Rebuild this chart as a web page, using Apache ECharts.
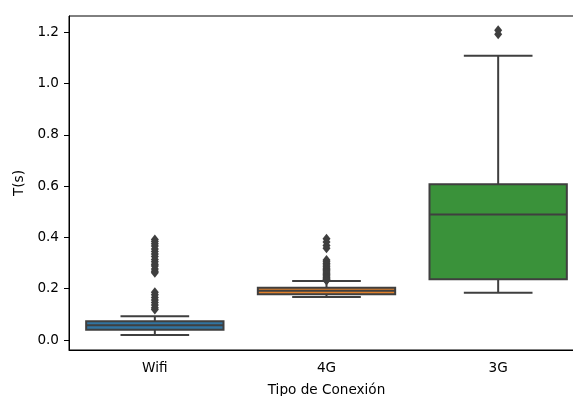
<!DOCTYPE html>
<html>
<head>
<meta charset="utf-8">
<script src="https://cdn.jsdelivr.net/npm/echarts@6/dist/echarts.min.js"></script>
<style>
html,body{margin:0;padding:0;background:#fff;}
#chart{width:573px;height:396px;}
</style>
</head>
<body>
<div id="chart"></div>
<script>
const categories = ['Wifi', '4G', '3G'];
const lowWhisker = [0.019, 0.168, 0.184];
const q1 = [0.040, 0.178, 0.237];
const median = [0.057, 0.192, 0.489];
const q3 = [0.073, 0.204, 0.607];
const highWhisker = [0.093, 0.230, 1.108];
const wifiOutliers = [0.392, 0.384, 0.375, 0.366, 0.355, 0.345, 0.335, 0.325, 0.314, 0.305, 0.295, 0.288, 0.277, 0.268, 0.262, 0.186, 0.176, 0.166, 0.156, 0.146, 0.136, 0.126, 0.119];
const g4Outliers = [0.395, 0.382, 0.368, 0.358, 0.312, 0.305, 0.298, 0.292, 0.286, 0.280, 0.275, 0.270, 0.265, 0.260, 0.255, 0.250, 0.246, 0.242, 0.238, 0.235, 0.232];
const g3Outliers = [1.192, 1.207];
const yTicks = [0, 0.2, 0.4, 0.6, 0.8, 1.0, 1.2];
const boxColors = ['#3274a1', '#e1812c', '#3a923a'];
const lineColor = '#3f3f3f';

const boxData = categories.map((c, i) => [i, lowWhisker[i], q1[i], median[i], q3[i], highWhisker[i]]);
const outlierData = [];
[wifiOutliers, g4Outliers, g3Outliers].forEach((arr, i) => arr.forEach(v => outlierData.push([i, v])));

const chart = echarts.init(document.getElementById('chart'), null, {renderer: 'canvas'});
const font = 'DejaVu Sans';
chart.setOption({
  animation: false,
  backgroundColor: '#fff',
  grid: {left: 69, top: 16, width: 515, height: 334, outerBoundsMode: 'none', containLabel: false, show: true, borderColor: '#000', borderWidth: 1, backgroundColor: 'transparent'},
  xAxis: {
    type: 'category', data: categories, boundaryGap: true,
    axisLine: {onZero: false, lineStyle: {color: '#000', width: 1}},
    axisTick: {alignWithLabel: true, length: 5, lineStyle: {color: '#000'}},
    axisLabel: {color: '#000', fontFamily: font, fontSize: 13.6, margin: 11},
    splitLine: {show: false},
    name: 'Tipo de Conexión', nameLocation: 'middle', nameGap: 33,
    nameTextStyle: {color: '#000', fontFamily: font, fontSize: 13.6}
  },
  yAxis: {
    type: 'value', min: -0.039, max: 1.263,
    axisLine: {show: true, onZero: false, lineStyle: {color: '#000', width: 1}},
    axisTick: {show: true, length: 5, customValues: yTicks, lineStyle: {color: '#000'}},
    axisLabel: {color: '#000', fontFamily: font, fontSize: 13.6, margin: 10, customValues: yTicks, formatter: v => v.toFixed(1)},
    splitLine: {show: false},
    name: 'T(s)', nameLocation: 'middle', nameGap: 40,
    nameTextStyle: {color: '#000', fontFamily: font, fontSize: 13.6}
  },
  series: [
    {
      type: 'custom',
      data: boxData,
      encode: {x: 0, y: [1, 2, 3, 4, 5]},
      z: 2,
      renderItem: function (params, api) {
        const i = api.value(0);
        const band = api.size([1, 0])[0];
        const x = api.coord([i, api.value(3)])[0];
        const yLo = api.coord([i, api.value(1)])[1];
        const yQ1 = api.coord([i, api.value(2)])[1];
        const yMed = api.coord([i, api.value(3)])[1];
        const yQ3 = api.coord([i, api.value(4)])[1];
        const yHi = api.coord([i, api.value(5)])[1];
        const half = band * 0.4, cap = band * 0.2;
        const ls = {stroke: lineColor, lineWidth: 2};
        return {type: 'group', children: [
          {type: 'line', shape: {x1: x, y1: yQ3, x2: x, y2: yHi}, style: ls},
          {type: 'line', shape: {x1: x, y1: yQ1, x2: x, y2: yLo}, style: ls},
          {type: 'line', shape: {x1: x - cap, y1: yHi, x2: x + cap, y2: yHi}, style: ls},
          {type: 'line', shape: {x1: x - cap, y1: yLo, x2: x + cap, y2: yLo}, style: ls},
          {type: 'rect', shape: {x: x - half, y: yQ3, width: 2 * half, height: yQ1 - yQ3}, style: {fill: boxColors[i], stroke: lineColor, lineWidth: 2}},
          {type: 'line', shape: {x1: x - half, y1: yMed, x2: x + half, y2: yMed}, style: ls}
        ]};
      }
    },
    {
      type: 'scatter',
      data: outlierData,
      symbol: 'diamond',
      symbolSize: [8, 10],
      itemStyle: {color: lineColor, opacity: 1},
      z: 3
    }
  ]
});
</script>
</body>
</html>
